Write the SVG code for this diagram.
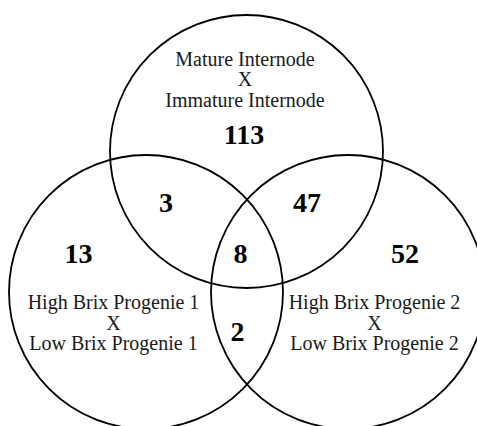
<svg xmlns="http://www.w3.org/2000/svg" width="477" height="426" viewBox="0 0 477 426">
<style>
.c{fill:none;stroke:#000;stroke-width:1.8}
.t{font-family:"Liberation Serif","Times New Roman",serif;font-size:20px;fill:#1a1a1a;text-anchor:middle}
.n{font-family:"Liberation Serif","Times New Roman",serif;font-size:28px;font-weight:bold;fill:#000;text-anchor:middle}
</style>
<rect width="477" height="426" fill="#fff"/>
<g id="top-set">
<circle class="c" cx="246.5" cy="151.5" r="136.5"/>
<text class="t" x="245" y="65.5">Mature Internode</text>
<text class="t" x="245" y="86">X</text>
<text class="t" x="245" y="106.5">Immature Internode</text>
<text class="n" x="244" y="144">113</text>
</g>
<g id="left-set">
<circle class="c" cx="146" cy="292" r="137"/>
<text class="t" x="113.5" y="308.5">High Brix Progenie 1</text>
<text class="t" x="113.5" y="329.5">X</text>
<text class="t" x="113.5" y="349.5">Low Brix Progenie 1</text>
<text class="n" x="78.5" y="263">13</text>
</g>
<g id="right-set">
<circle class="c" cx="348" cy="292" r="137"/>
<text class="t" x="374.5" y="308.5">High Brix Progenie 2</text>
<text class="t" x="374.5" y="329.5">X</text>
<text class="t" x="374.5" y="349.5">Low Brix Progenie 2</text>
<text class="n" x="405" y="263">52</text>
</g>
<g id="overlaps">
<text class="n" x="166" y="212">3</text>
<text class="n" x="307" y="212">47</text>
<text class="n" x="240.5" y="263">8</text>
<text class="n" x="237.5" y="341">2</text>
</g>
</svg>
